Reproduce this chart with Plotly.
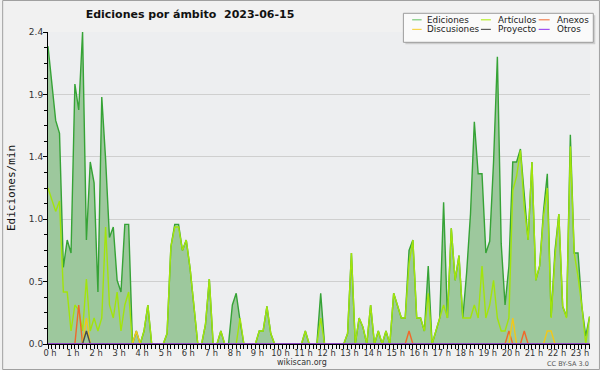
import numpy as np
import plotly.graph_objects as go

# ---------------- data (edits per minute, 10-minute bins) ----------------
ediciones = [
    2.29, 2.00, 1.72, 1.62, 0.59, 0.80,
    0.70, 2.00, 1.80, 2.40, 0.80, 1.40,
    1.24, 0.40, 1.90, 1.42, 0.82, 0.90,
    0.49, 0.40, 0.92, 0.92, 0.00, 0.10,
    0.00, 0.10, 0.30, 0.00, 0.00, 0.00,
    0.00, 0.08, 0.75, 0.92, 0.92, 0.72,
    0.80, 0.58, 0.28, 0.00, 0.00, 0.15,
    0.50, 0.00, 0.00, 0.10, 0.00, 0.00,
    0.30, 0.39, 0.18, 0.00, 0.00, 0.00,
    0.00, 0.10, 0.10, 0.29, 0.08, 0.00,
    0.00, 0.00, 0.00, 0.00, 0.00, 0.00,
    0.00, 0.10, 0.00, 0.00, 0.00, 0.39,
    0.00, 0.00, 0.00, 0.00, 0.00, 0.00,
    0.08, 0.70, 0.00, 0.20, 0.13, 0.00,
    0.30, 0.00, 0.10, 0.00, 0.10, 0.00,
    0.39, 0.29, 0.20, 0.20, 0.72, 0.80,
    0.20, 0.20, 0.10, 0.60, 0.00, 0.10,
    0.20, 1.09, 0.20, 0.89, 0.49, 0.68,
    0.20, 0.55, 1.00, 1.71, 1.31, 1.31,
    0.70, 0.79, 1.40, 2.21, 0.77, 0.30,
    0.60, 1.40, 1.40, 1.50, 1.13, 0.80,
    1.40, 0.49, 0.60, 1.02, 1.31, 0.21,
    0.72, 1.00, 0.29, 0.21, 1.61, 0.70,
    0.70, 0.29, 0.06, 0.21,
]
articulos = [
    1.20, 1.10, 1.02, 1.10, 0.40, 0.40,
    0.10, 0.30, 0.26, 0.10, 0.50, 0.10,
    0.20, 0.10, 0.20, 0.90, 0.30, 0.20,
    0.40, 0.10, 0.30, 0.40, 0.00, 0.00,
    0.00, 0.10, 0.30, 0.00, 0.00, 0.00,
    0.00, 0.08, 0.75, 0.90, 0.90, 0.72,
    0.80, 0.58, 0.28, 0.00, 0.00, 0.15,
    0.50, 0.00, 0.00, 0.10, 0.00, 0.00,
    0.00, 0.00, 0.20, 0.00, 0.00, 0.00,
    0.00, 0.10, 0.10, 0.29, 0.08, 0.00,
    0.00, 0.00, 0.00, 0.00, 0.00, 0.00,
    0.00, 0.10, 0.00, 0.00, 0.00, 0.20,
    0.00, 0.00, 0.00, 0.00, 0.00, 0.00,
    0.08, 0.70, 0.00, 0.20, 0.13, 0.00,
    0.30, 0.00, 0.10, 0.00, 0.10, 0.00,
    0.39, 0.29, 0.20, 0.20, 0.62, 0.80,
    0.20, 0.20, 0.10, 0.39, 0.00, 0.10,
    0.20, 0.30, 0.20, 0.89, 0.49, 0.68,
    0.20, 0.20, 0.20, 0.30, 0.20, 0.60,
    0.20, 0.30, 0.49, 0.20, 0.10, 0.10,
    0.20, 1.18, 1.29, 1.49, 1.05, 0.80,
    1.40, 0.49, 0.60, 0.98, 1.20, 0.20,
    0.67, 1.00, 0.29, 0.20, 1.52, 0.70,
    0.52, 0.29, 0.00, 0.21,
]
anexos = [
    0, 0, 0, 0, 0, 0,   0, 0, 0.30, 0, 0, 0,   0, 0, 0, 0, 0, 0,   0, 0, 0, 0, 0, 0,
    0, 0, 0, 0, 0, 0,   0, 0, 0, 0, 0, 0,      0, 0, 0, 0, 0, 0,   0, 0, 0, 0, 0, 0,
    0, 0, 0, 0, 0, 0,   0, 0, 0, 0, 0, 0,      0, 0, 0, 0, 0, 0,   0, 0, 0, 0, 0, 0,
    0, 0, 0, 0, 0, 0,   0, 0, 0, 0, 0, 0,      0, 0, 0, 0, 0, 0,   0, 0, 0, 0, 0.10, 0,
    0, 0, 0, 0, 0, 0,   0, 0, 0, 0, 0, 0,      0, 0, 0, 0, 0, 0,   0, 0, 0, 0, 0, 0,
    0.10, 0, 0, 0, 0.10, 0,   0, 0, 0, 0, 0, 0,   0, 0, 0, 0, 0, 0,   0, 0, 0, 0,
]
discusiones = [
    0, 0, 0, 0, 0, 0,   0, 0, 0, 0, 0.20, 0,   0, 0, 0, 0, 0, 0,   0, 0, 0, 0, 0, 0.10,
    0, 0, 0, 0, 0, 0,   0, 0, 0, 0, 0, 0,      0, 0, 0, 0, 0, 0,   0, 0, 0, 0, 0, 0,
    0, 0, 0, 0, 0, 0,   0, 0, 0, 0, 0, 0,      0, 0, 0, 0, 0, 0,   0, 0, 0, 0, 0, 0,
    0, 0, 0, 0, 0, 0,   0, 0, 0, 0, 0, 0,      0, 0, 0, 0, 0, 0,   0, 0, 0, 0, 0, 0,
    0, 0, 0, 0, 0, 0,   0, 0, 0, 0, 0, 0,      0, 0, 0, 0, 0, 0,   0, 0, 0, 0, 0, 0,
    0, 0.20, 0, 0, 0, 0,   0, 0, 0, 0, 0.10, 0.10,   0, 0, 0, 0, 0, 0,   0, 0, 0, 0,
]
proyecto = [
    0, 0, 0, 0, 0, 0,   0, 0, 0, 0, 0.10, 0,   0, 0, 0, 0, 0, 0,   0, 0, 0, 0, 0, 0,
    0, 0, 0, 0, 0, 0,   0, 0, 0, 0, 0, 0,      0, 0, 0, 0, 0, 0,   0, 0, 0, 0, 0, 0,
    0, 0, 0, 0, 0, 0,   0, 0, 0, 0, 0, 0,      0, 0, 0, 0, 0, 0,   0, 0, 0, 0, 0, 0,
    0, 0, 0, 0, 0, 0,   0, 0, 0, 0, 0, 0,      0, 0, 0, 0, 0, 0,   0, 0, 0, 0, 0, 0,
    0, 0, 0, 0, 0, 0,   0, 0, 0, 0, 0, 0,      0, 0, 0, 0, 0, 0,   0, 0, 0, 0, 0, 0,
    0, 0, 0, 0, 0, 0,   0, 0, 0, 0, 0, 0,      0, 0, 0, 0, 0, 0,   0, 0, 0, 0,
]
otros = [0] * len(ediciones)

hour_labels = [f"{h} h" for h in range(24)]
y_tickvals = [0, 0.48, 0.96, 1.44, 1.92, 2.4]
y_ticktext = ["0.0", "0.5", "1.0", "1.4", "1.9", "2.4"]

series_names = ["Ediciones", "Artículos", "Anexos", "Discusiones", "Proyecto", "Otros"]

# ---------------- styling ----------------
W, H = 600, 370
ML, MR, MT, MB = 46, 10, 32, 26
PW, PH = W - ML - MR, H - MT - MB
HOUR_PX = 23.13

colors = {
    "Ediciones": "#36a336",
    "Artículos": "#a2e40c",
    "Anexos": "#f0682a",
    "Discusiones": "#f2c81a",
    "Proyecto": "#4a4a4a",
    "Otros": "#9a3cf0",
}
legend_colors = {
    "Ediciones": "#7acb7a",
    "Artículos": "#b6ee2a",
    "Anexos": "#f28050",
    "Discusiones": "#f6d44a",
    "Proyecto": "#5a5a5a",
    "Otros": "#a050f0",
}

n = len(ediciones)
hours = np.arange(n) / 6.0
values = {
    "Ediciones": ediciones,
    "Artículos": articulos,
    "Anexos": anexos,
    "Discusiones": discusiones,
    "Proyecto": proyecto,
    "Otros": otros,
}


def px_x(px):
    return (px - ML) / PW


def px_y(py):
    return (H - MB - py) / PH


fig = go.Figure()
fig.add_trace(go.Scatter(
    x=hours, y=ediciones, mode="lines", name="Ediciones",
    fill="tozeroy", fillcolor="#9dc89d",
    line=dict(color=colors["Ediciones"], width=1.4),
    showlegend=False, hoverinfo="skip",
))
for name in ["Artículos", "Anexos", "Discusiones", "Proyecto", "Otros"]:
    fig.add_trace(go.Scatter(
        x=hours, y=values[name], mode="lines", name=name,
        line=dict(color=colors[name], width=1.4),
        showlegend=False, hoverinfo="skip",
    ))

# ---------------- manual legend ----------------
shapes = []
annotations = []
box = (402.7, 13.3, 593.3, 42.3)
shapes.append(dict(type="rect", xref="paper", yref="paper", layer="above",
                   x0=px_x(box[0] + 2), x1=px_x(box[2] + 2),
                   y0=px_y(box[3] + 2), y1=px_y(box[1] + 2),
                   fillcolor="#cdcdcd", line=dict(width=0)))
shapes.append(dict(type="rect", xref="paper", yref="paper", layer="above",
                   x0=px_x(box[0]), x1=px_x(box[2]),
                   y0=px_y(box[3]), y1=px_y(box[1]),
                   fillcolor="#fafafa", line=dict(color="#9c9c9c", width=1)))
col_line = [(411.5, 421), (480.5, 490.5), (538.5, 549.5)]
col_text = [424.5, 496, 555]
row_y = [19.8, 29.4]
for k, name in enumerate(series_names):
    r, c = divmod(k, 3)
    shapes.append(dict(type="line", xref="paper", yref="paper", layer="above",
                       x0=px_x(col_line[c][0]), x1=px_x(col_line[c][1]),
                       y0=px_y(row_y[r]), y1=px_y(row_y[r]),
                       line=dict(color=legend_colors[name], width=1.2)))
    annotations.append(dict(text=name, xref="paper", yref="paper",
                            x=px_x(col_text[c]), y=px_y(row_y[r]),
                            xanchor="left", yanchor="middle", showarrow=False,
                            font=dict(family="DejaVu Sans", size=8.8, color="#222")))

# outer frame
shapes.append(dict(type="rect", xref="paper", yref="paper", layer="below",
                   x0=px_x(0.5), x1=px_x(W - 0.5), y0=px_y(H - 0.5), y1=px_y(0.5),
                   line=dict(color="#a0a0a0", width=1)))

annotations.append(dict(text="wikiscan.org", xref="paper", yref="paper",
                        x=px_x(300.5), y=px_y(362.5), xanchor="center", yanchor="middle",
                        showarrow=False, borderpad=0,
                        font=dict(family="DejaVu Sans", size=8, color="#333")))
annotations.append(dict(text="CC BY-SA 3.0", xref="paper", yref="paper",
                        x=px_x(590), y=px_y(363.5), xanchor="right", yanchor="middle",
                        showarrow=False, borderpad=0,
                        font=dict(family="DejaVu Sans", size=6.5, color="#555")))

minor_x = [k / 6 for k in range(n + 1) if k % 6 != 0]

fig.update_layout(
    width=W, height=H,
    margin=dict(l=ML, r=MR, t=MT, b=MB),
    paper_bgcolor="#f1f1f1",
    plot_bgcolor="#edeef0",
    title=dict(text="Ediciones por ámbito\u00a0 2023-06-15", xref="container", yref="container",
               x=190 / W, y=1 - 14.5 / H, xanchor="center", yanchor="middle",
               font=dict(family="DejaVu Sans", size=11, color="#111", weight="bold")),
    xaxis=dict(
        range=[0, PW / HOUR_PX], tickmode="array", tickvals=list(range(24)), ticktext=hour_labels,
        ticks="outside", ticklen=4, tickcolor="#000", tickwidth=1,
        minor=dict(tickmode="array", tickvals=minor_x, ticks="outside", ticklen=4,
                   tickcolor="#000", tickwidth=1, showgrid=False),
        showline=True, linecolor="#000", linewidth=1, showgrid=False, zeroline=False,
        tickfont=dict(family="DejaVu Sans", size=8.3, color="#333"),
        ticklabelstandoff=-3, ticklabelshift=2, fixedrange=True,
    ),
    yaxis=dict(
        range=[0, 2.4], tickmode="array", tickvals=y_tickvals, ticktext=y_ticktext,
        ticks="outside", ticklen=4, tickcolor="#000", tickwidth=1,
        minor=dict(dtick=0.12, tick0=0, ticks="outside", ticklen=3, tickcolor="#000",
                   tickwidth=1, showgrid=False),
        showline=True, linecolor="#000", linewidth=1,
        showgrid=True, gridcolor="#cfcfcf", gridwidth=1, zeroline=False,
        tickfont=dict(family="DejaVu Sans", size=9, color="#333"),
        ticklabelstandoff=-2, fixedrange=True,
        title=dict(text="Ediciones/min", standoff=11,
                   font=dict(family="DejaVu Sans Mono", size=11, color="#111")),
    ),
    shapes=shapes,
    annotations=annotations,
    showlegend=False,
)

fig.write_html("out.html", config={"displayModeBar": False},
               post_script="document.body.style.margin='0px';document.body.style.overflow='hidden';")
